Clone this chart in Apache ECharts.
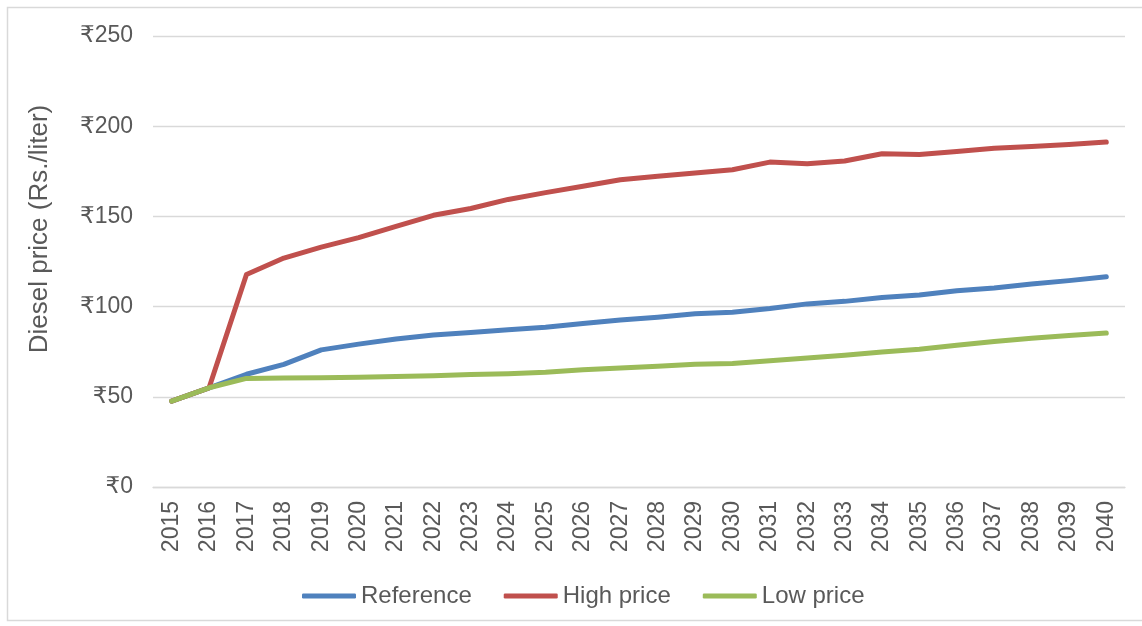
<!DOCTYPE html>
<html>
<head>
<meta charset="utf-8">
<script src="https://cdn.jsdelivr.net/npm/echarts@6/dist/echarts.min.js"></script>
<style>
  html, body { margin: 0; padding: 0; background: #ffffff; }
  #chart { width: 1142px; height: 626px; }
</style>
</head>
<body>
<div id="chart"></div>
<script>
// Diesel price projections, Rs. per liter
const years = ['2015','2016','2017','2018','2019','2020','2021','2022','2023','2024','2025','2026','2027',
               '2028','2029','2030','2031','2032','2033','2034','2035','2036','2037','2038','2039','2040'];
const referencePrice = [47.6, 55, 62.5, 68, 76, 79.2, 82, 84.2, 85.7, 87.2, 88.6, 90.6, 92.6,
                        94.1, 96, 96.9, 98.9, 101.5, 102.9, 105, 106.4, 108.8, 110.3, 112.5, 114.4, 116.6];
const highPrice = [47.6, 55, 117.8, 126.9, 133, 138.2, 144.5, 150.6, 154.4, 159.4, 163.2, 166.7, 170.3,
                   172.2, 174, 175.9, 180.1, 179.2, 180.7, 184.7, 184.3, 186, 187.8, 188.8, 189.9, 191.2];
const lowPrice = [47.6, 55, 60.2, 60.4, 60.6, 60.8, 61.3, 61.7, 62.3, 62.8, 63.6, 65, 66,
                  67, 68, 68.5, 70, 71.5, 73, 74.8, 76.4, 78.6, 80.7, 82.5, 84, 85.3];
const seriesNames = ['Reference', 'High price', 'Low price'];
const seriesColors = ['#4f81bd', '#c0504d', '#9bbb59'];
const yTitle = 'Diesel price (Rs./liter)';

const FONT = '"Liberation Sans", Arial, "DejaVu Sans", sans-serif';
const TEXT = '#595959';
const GRID = '#d9d9d9';

function lineSeries(name, data, color) {
  return {
    name: name,
    type: 'line',
    data: data,
    symbol: 'none',
    smooth: false,
    lineStyle: { color: color, width: 5, cap: 'round', join: 'round' },
    itemStyle: { color: color },
    emphasis: { disabled: true }
  };
}

const chart = echarts.init(document.getElementById('chart'), null, { renderer: 'canvas' });
chart.setOption({
  animation: false,
  backgroundColor: '#ffffff',
  textStyle: { fontFamily: FONT },
  graphic: [{
    type: 'rect',
    shape: { x: 7.5, y: 7.5, width: 1160, height: 613 },
    style: { fill: 'none', stroke: GRID, lineWidth: 1.5 },
    silent: true
  }, {
    // vertical axis title
    type: 'text',
    x: 40,
    y: 229,
    rotation: Math.PI / 2,
    style: {
      text: yTitle,
      fill: TEXT,
      font: '26px ' + FONT,
      align: 'center',
      verticalAlign: 'middle'
    },
    silent: true
  }],
  grid: { left: 153, right: 17, top: 36, bottom: 139, containLabel: false },
  legend: {
    data: seriesNames,
    bottom: 13,
    left: 297,
    icon: 'roundRect',
    itemWidth: 54,
    itemHeight: 5,
    itemGap: 32,
    textStyle: { color: TEXT, fontSize: 24, fontFamily: FONT }
  },
  xAxis: {
    type: 'category',
    data: years,
    boundaryGap: true,
    axisLine: { show: true, lineStyle: { color: GRID, width: 1.3 } },
    axisTick: { show: false },
    axisLabel: { rotate: 90, margin: 14, color: TEXT, fontSize: 23, fontFamily: FONT, interval: 0 }
  },
  yAxis: {
    type: 'value',
    min: 0,
    max: 250,
    interval: 50,
    axisLine: { show: false },
    axisTick: { show: false },
    axisLabel: { color: TEXT, fontSize: 23, margin: 20, fontFamily: FONT, formatter: v => '₹' + v },
    splitLine: { lineStyle: { color: GRID, width: 1.3 } }
  },
  series: [
    lineSeries(seriesNames[0], referencePrice, seriesColors[0]),
    lineSeries(seriesNames[1], highPrice, seriesColors[1]),
    lineSeries(seriesNames[2], lowPrice, seriesColors[2])
  ]
});
</script>
</body>
</html>
